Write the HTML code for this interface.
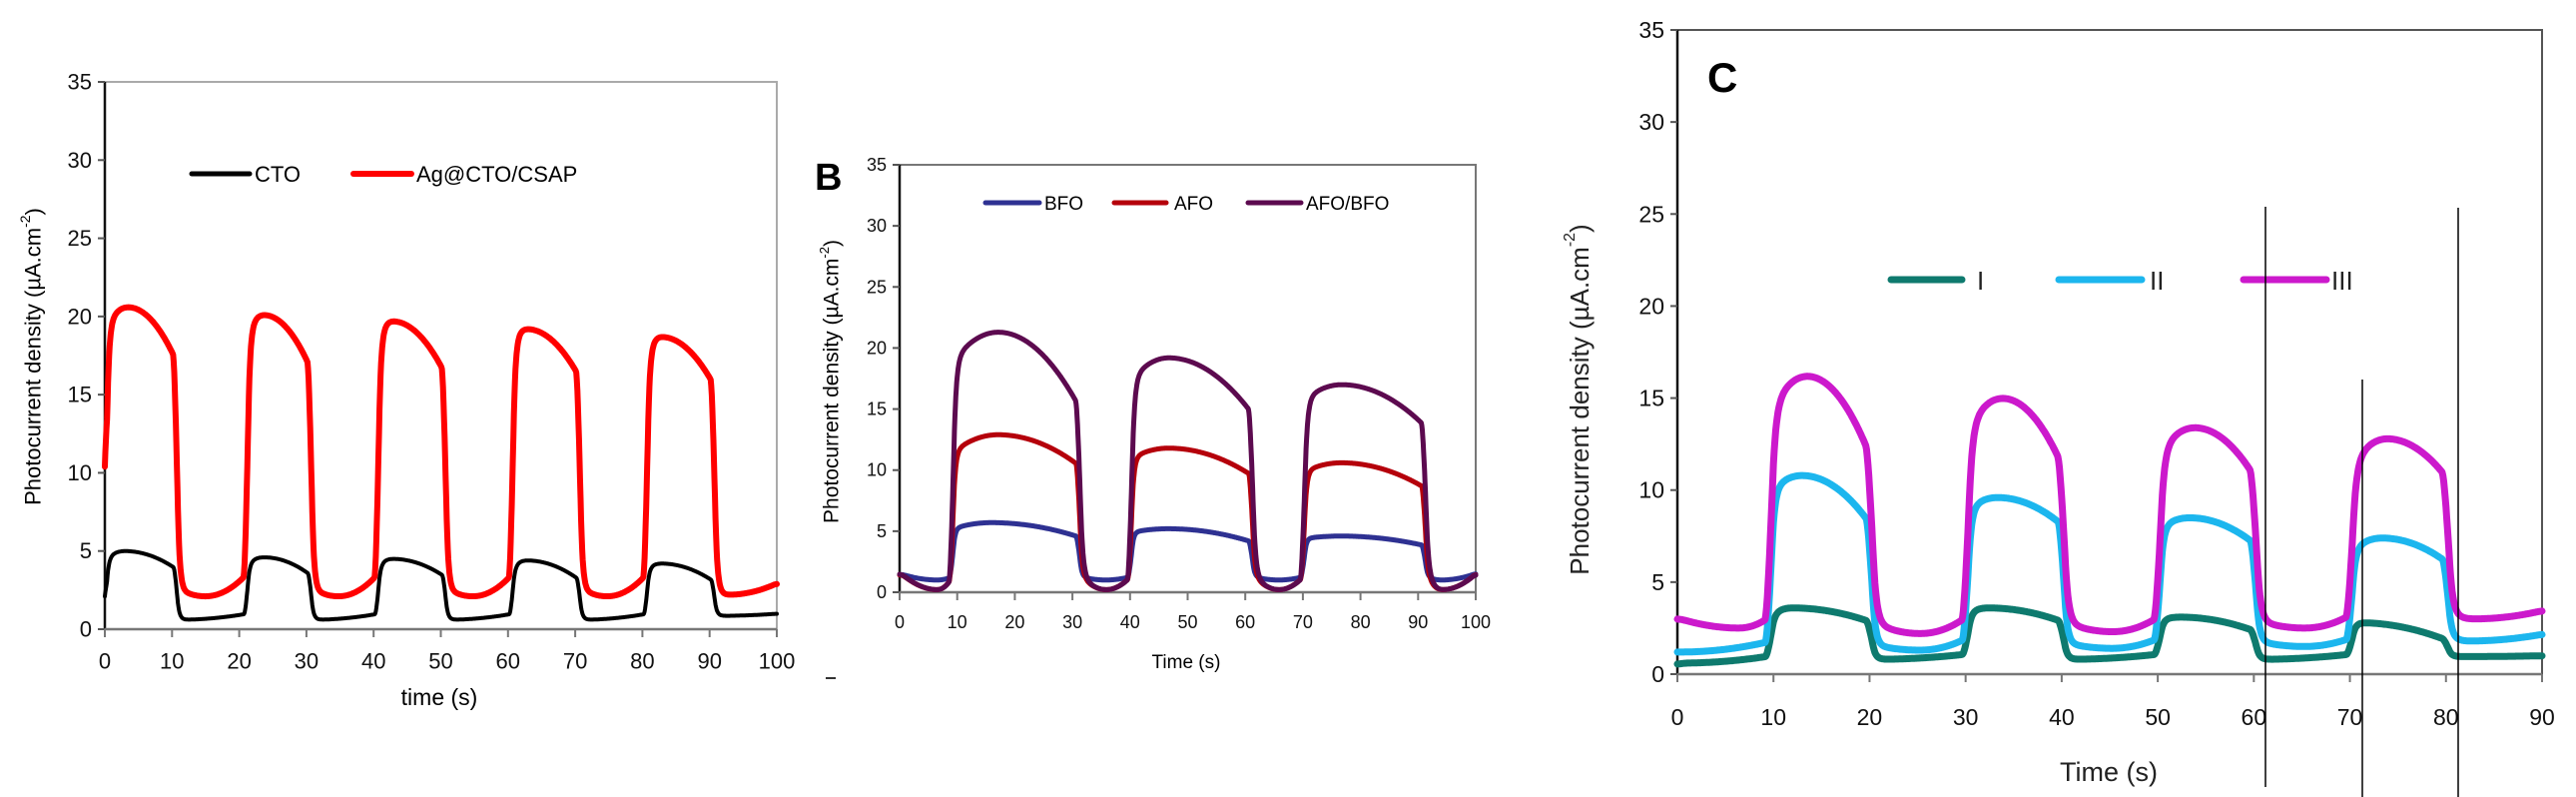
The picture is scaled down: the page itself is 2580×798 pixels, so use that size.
<!DOCTYPE html>
<html><head><meta charset="utf-8"><style>
html,body{margin:0;padding:0;background:#fff;}
svg{display:block;font-family:"Liberation Sans",sans-serif;}
</style></head><body>
<svg id="s" width="2580" height="798" viewBox="0 0 2580 798" xmlns="http://www.w3.org/2000/svg">
<rect width="2580" height="798" fill="#fff"/>
<g id="g"></g>
<g font-size="22" fill="#000">
<text x="33" y="357" transform="rotate(-90 33 357)" text-anchor="middle" dominant-baseline="central">Photocurrent density (µA.cm<tspan font-size="14" dy="-8">-2</tspan><tspan dy="8">)</tspan></text>
<text x="440" y="706" text-anchor="middle" font-size="23">time (s)</text>
<text x="255" y="182">CTO</text>
<text x="417" y="182">Ag@CTO/CSAP</text>
</g>
<line x1="192" y1="174" x2="250" y2="174" stroke="#000" stroke-width="5" stroke-linecap="round"/>
<line x1="354" y1="174" x2="412" y2="174" stroke="#f00" stroke-width="6" stroke-linecap="round"/>
<text x="816" y="190" font-size="38" font-weight="bold">B</text>
<text x="833" y="382" transform="rotate(-90 833 382)" text-anchor="middle" dominant-baseline="central" font-size="21">Photocurrent density (µA.cm<tspan font-size="13" dy="-8">-2</tspan><tspan dy="8">)</tspan></text>
<text x="1188" y="669" text-anchor="middle" font-size="19">Time (s)</text>
<line x1="827" y1="679" x2="837" y2="679" stroke="#333" stroke-width="2"/>
<g font-size="19">
<text x="1046" y="210">BFO</text><text x="1176" y="210">AFO</text><text x="1308" y="210">AFO/BFO</text>
</g>
<line x1="987" y1="203" x2="1041" y2="203" stroke="#2e3192" stroke-width="5" stroke-linecap="round"/>
<line x1="1116" y1="203" x2="1168" y2="203" stroke="#b5000b" stroke-width="5" stroke-linecap="round"/>
<line x1="1250" y1="203" x2="1303" y2="203" stroke="#5c0a4f" stroke-width="5" stroke-linecap="round"/>
<text x="1710" y="92" font-size="42" font-weight="bold">C</text>
<text x="1582" y="400" transform="rotate(-90 1582 400)" text-anchor="middle" dominant-baseline="central" font-size="26" fill="#222">Photocurrent density (µA.cm<tspan font-size="16" dy="-10">-2</tspan><tspan dy="10">)</tspan></text>
<text x="2112" y="782" text-anchor="middle" font-size="27" fill="#222">Time (s)</text>
<g font-size="26" fill="#222"><text x="1980" y="290">I</text><text x="2153" y="290">II</text><text x="2335" y="290">III</text></g>
<line x1="1894" y1="280" x2="1965" y2="280" stroke="#0e7a6e" stroke-width="7" stroke-linecap="round"/>
<line x1="2062" y1="280" x2="2145" y2="280" stroke="#1cb6ee" stroke-width="7" stroke-linecap="round"/>
<line x1="2247" y1="280" x2="2330" y2="280" stroke="#cc19cc" stroke-width="7" stroke-linecap="round"/>
<line x1="2269" y1="207" x2="2269" y2="788" stroke="#000" stroke-width="1.5"/>
<line x1="2366" y1="380" x2="2366" y2="798" stroke="#000" stroke-width="1.5"/>
<line x1="2462" y1="208" x2="2462" y2="798" stroke="#000" stroke-width="1.5"/>
</svg>
<script>
var NS="http://www.w3.org/2000/svg",G=document.getElementById('g');
function el(n,a,p){var e=document.createElementNS(NS,n);for(var k in a)e.setAttribute(k,a[k]);(p||G).appendChild(e);return e;}
function txt(x,y,s,a){var e=el('text',Object.assign({x:x,y:y},a));e.textContent=s;return e;}
function axes(o){
 var X=function(t){return o.x0+(t/o.tmax)*(o.x1-o.x0)}, Y=function(v){return o.y0-(v/35)*(o.y0-o.y35)};
 el('rect',{x:o.x0,y:o.y35,width:o.x1-o.x0,height:o.y0-o.y35,fill:'none',stroke:o.box,'stroke-width':2});
 el('line',{x1:o.x0,y1:o.y35,x2:o.x0,y2:o.y0,stroke:'#111','stroke-width':2.5});
 el('line',{x1:o.x0,y1:o.y0,x2:o.x1,y2:o.y0,stroke:'#777','stroke-width':2.5});
 for(var v=0;v<=35;v+=5){var y=Y(v);el('line',{x1:o.x0-7,y1:y,x2:o.x0,y2:y,stroke:'#555','stroke-width':2});
  txt(o.x0-13,y,String(v),{'text-anchor':'end','dominant-baseline':'central','font-size':o.fs,fill:'#111'});}
 for(var t=0;t<=o.tmax;t+=10){var x=X(t);el('line',{x1:x,y1:o.y0,x2:x,y2:o.y0+8,stroke:'#777','stroke-width':2});
  txt(x,o.ly,String(t),{'text-anchor':'middle','dominant-baseline':'central','font-size':o.fs,fill:'#111'});}
 return {X:X,Y:Y};
}
function series(ax,o){
 var segs=[];o.on.forEach(function(s){segs.push({on:1,s:s})});o.off.forEach(function(s){segs.push({on:0,s:s})});
 function target(t){for(var i=0;i<segs.length;i++){var s=segs[i].s;if(t>=s[0]&&t<s[1]){var u=(t-s[0])/(s[1]-s[0]);
   if(segs[i].on){var S=s[2],P=s[3],E=s[4],f=s[5];return u<f?P-(P-S)*Math.pow((f-u)/f,2):P-(P-E)*Math.pow((u-f)/(1-f),2);}
   else if(s.length>4){var m=s[5]||0.5;return u<m?s[2]+(s[4]-s[2])*Math.pow((m-u)/m,2):s[2]+(s[3]-s[2])*Math.pow((u-m)/(1-m),2);}
   else return s[2]+(s[3]-s[2])*u*u;}}var l=o.off[o.off.length-1];return l[3];}
 var y=o.start,dt=0.02,ys=[],ts=[];
 for(var t=0;t<=o.tmax+1e-9;t+=dt){var tg=target(t);var tau=tg>y?o.tauUp:o.tauDn;y+=(tg-y)*Math.min(1,dt/tau);ys.push(y);ts.push(t);}
 var W=Math.round((o.sm||0.35)/dt),sm=[];
 for(var i=0;i<ys.length;i++){var a=0,n=0;for(var j=Math.max(0,i-W);j<=Math.min(ys.length-1,i+W);j++){a+=ys[j];n++;}sm.push(a/n);}
 var pts=[];for(var i=0;i<ys.length;i+=4)pts.push(ax.X(ts[i]).toFixed(1)+','+ax.Y(sm[i]).toFixed(1));
 el('polyline',{points:pts.join(' '),fill:'none',stroke:o.c,'stroke-width':o.w,'stroke-linejoin':'round','stroke-linecap':'round'});
}
var A=axes({x0:105,x1:778,y0:630,y35:82,tmax:100,fs:22,ly:662,box:'#aaa'});
series(A,{tmax:100,start:0.3,tauUp:0.3,tauDn:0.3,c:'#000',w:4,sm:0.3,
 on:[[0,10.5,4.6,5,3.8,0.25],[21,30.5,4.3,4.6,3.4,0.25],[40.5,50.5,4.2,4.5,3.3,0.2],[60.5,70.5,4.1,4.4,3.1,0.2],[80.5,90.5,4,4.2,3,0.2]],
 off:[[10.5,21,0.6,1.0],[30.5,40.5,0.6,1.0],[50.5,60.5,0.6,1.0],[70.5,80.5,0.6,1.0],[90.5,100.1,0.85,1.0]]});
series(A,{tmax:100,start:2.5,tauUp:0.3,tauDn:0.3,c:'#f00',w:6,sm:0.35,
 on:[[0,10.5,19.5,20.6,17,0.3],[21,30.5,19.3,20.1,16.5,0.25],[40.5,50.5,19,19.7,16.2,0.2],[60.5,70.5,18.6,19.2,16,0.2],[80.5,90.5,18,18.7,15.5,0.2]],
 off:[[10.5,21,2.1,3.6,2.6,0.4],[30.5,40.5,2.1,3.6,2.6,0.4],[50.5,60.5,2.1,3.6,2.6,0.4],[70.5,80.5,2.1,3.6,2.6,0.4],[90.5,100.1,2.2,3.0,2.6,0.2]]});
var B=axes({x0:901,x1:1478,y0:593,y35:165,tmax:100,fs:18,ly:623,box:'#777'});
var offB=function(l1,l2,s){return [[0,9,l1,l2,1.5,0.7],[31,40,l1,l2,s,0.5],[61,70,l1,l2,s,0.5],[91,100.1,l1,l2+0.3,s,0.3]]};
series(B,{tmax:100,start:1.4,tauUp:0.3,tauDn:0.3,c:'#2e3192',w:5,sm:0.4,
 on:[[9,31,5.2,5.7,4.5,0.3],[40,61,4.9,5.2,4.1,0.3],[70,91,4.4,4.6,3.8,0.3]],off:offB(1.0,1.3,1.3)});
series(B,{tmax:100,start:1.4,tauUp:0.35,tauDn:0.35,c:'#b5000b',w:5,sm:0.4,
 on:[[9,31,11.5,12.9,10.3,0.35],[40,61,11,11.8,9.5,0.3],[70,91,9.9,10.6,8.5,0.3]],off:offB(0.2,1.4,1.4)});
series(B,{tmax:100,start:1.5,tauUp:0.4,tauDn:0.4,c:'#5c0a4f',w:5,sm:0.45,
 on:[[9,31,19,21.3,15,0.35],[40,61,17.5,19.2,14.5,0.3],[70,91,15.8,17,13.5,0.3]],off:offB(0.2,1.4,1.4)});
var C=axes({x0:1680,x1:2546,y0:675,y35:30,tmax:90,fs:23,ly:718,box:'#555'});
series(C,{tmax:90,start:0.5,tauUp:0.3,tauDn:0.3,c:'#0e7a6e',w:7,sm:0.35,
 on:[[9.5,20,3.3,3.6,2.8,0.2],[30,40,3.4,3.6,2.8,0.2],[50,60,3,3.1,2.3,0.2],[70,80,2.8,2.8,1.8,0.05]],
 off:[[0,9.5,0.6,1.0],[20,30,0.8,1.1],[40,50,0.8,1.1],[60,70,0.8,1.1],[80,90.1,0.95,1.0]]});
series(C,{tmax:90,start:1.2,tauUp:0.3,tauDn:0.3,c:'#1cb6ee',w:7,sm:0.35,
 on:[[9.5,20,10,10.8,8,0.3],[30,40,9,9.6,8,0.3],[50,60,8,8.5,7,0.3],[70,80,6.8,7.4,6,0.3]],
 off:[[0,9.5,1.2,1.8],[20,30,1.3,2,1.6,0.5],[40,50,1.4,2,1.7,0.5],[60,70,1.5,2,1.8,0.5],[80,90.1,1.8,2.2,2.0,0.2]]});
series(C,{tmax:90,start:3,tauUp:0.35,tauDn:0.35,c:'#cc19cc',w:7,sm:0.4,
 on:[[9.5,20,14.5,16.2,11.5,0.35],[30,40,13.5,15,11,0.35],[50,60,12.2,13.4,10.5,0.35],[70,80,11.5,12.8,10.5,0.35]],
 off:[[0,9.5,2.5,3.2,3.0,0.65],[20,30,2.2,3.2,2.8,0.5],[40,50,2.3,3.2,2.8,0.5],[60,70,2.5,3.3,2.9,0.5],[80,90.1,3,3.5,3.2,0.25]]});
</script>
</body></html>
